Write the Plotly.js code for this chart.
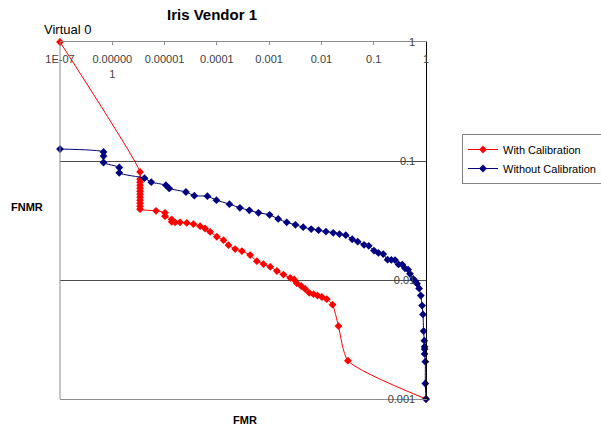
<!DOCTYPE html>
<html>
<head>
<meta charset="utf-8">
<script src="https://cdn.plot.ly/plotly-3.0.1.min.js"></script>
<style>
  html, body { margin: 0; padding: 0; background: #fff; }
  #chart { width: 601px; height: 428px; }
</style>
</head>
<body>
<div id="chart"></div>
<script>
// ---- data ----
const redName = 'With Calibration';
const blueName = 'Without Calibration';

const redFMR = [1e-7, 3.40e-6,
  3.40e-6, 3.40e-6, 3.40e-6, 3.40e-6, 3.40e-6, 3.40e-6, 3.40e-6, 3.40e-6, 3.40e-6, 3.40e-6, 3.40e-6,
  6.88e-6, 1.02e-5, 1.02e-5, 1.37e-5, 1.37e-5,
  1.59e-5, 1.98e-5, 2.66e-5, 3.56e-5, 4.78e-5, 5.96e-5, 7.43e-5, 9.99e-5,
  1.34e-4, 1.67e-4, 2.24e-4, 3.01e-4, 4.33e-4, 5.82e-4, 7.79e-4,
  1.05e-3, 1.41e-3, 1.88e-3, 2.53e-3, 3.01e-3, 3.37e-3, 4.10e-3, 4.90e-3, 5.84e-3, 7.06e-3, 8.42e-3,
  0.0102, 0.0127, 0.0163, 0.0212, 0.0321, 1];
const redFNMR = [1, 0.081,
  0.0704, 0.0664, 0.0626, 0.0591, 0.0558, 0.0526, 0.0497, 0.0469, 0.0442, 0.0417, 0.0394,
  0.0381, 0.0367, 0.0344, 0.0323, 0.0308,
  0.0305, 0.0305, 0.0302, 0.0295, 0.02835, 0.0271, 0.0254, 0.0231,
  0.0216, 0.0196, 0.0182, 0.0175, 0.0162, 0.0144, 0.0136,
  0.0129, 0.0119, 0.0111, 0.0104, 0.0101, 0.0094, 0.0089, 0.0084, 0.0078, 0.0076, 0.0074,
  0.0072, 0.0069, 0.0062, 0.0041, 0.0021, 0.001];

const blueFMR = [1e-7, 6.8e-7, 6.8e-7, 6.8e-7, 1.36e-6, 1.36e-6, 4.14e-6, 5.57e-6, 1.06e-5, 1.23e-5,
  2.56e-5, 3.71e-5, 6.6e-5, 9.81e-5, 1.74e-4, 2.76e-4, 4.18e-4, 6.25e-4, 1.02e-3, 1.49e-3,
  2.17e-3, 3.18e-3, 4.48e-3, 6.37e-3, 8.79e-3, 0.0122, 0.0168, 0.0221, 0.0292, 0.0388,
  0.0495, 0.0653, 0.0804, 0.101, 0.123, 0.152, 0.184, 0.217, 0.256, 0.299,
  0.352, 0.396, 0.454, 0.494, 0.571, 0.624, 0.673, 0.738, 0.795, 0.842,
  0.876, 0.90, 0.928, 0.94, 0.94, 0.94, 0.97, 0.97, 1];
const blueFNMR = [0.126, 0.119, 0.110, 0.0971, 0.0882, 0.0795, 0.0717, 0.0664, 0.0626, 0.0588,
  0.0549, 0.0511, 0.0506, 0.0469, 0.0434, 0.0404, 0.0385, 0.0367, 0.0353, 0.0326,
  0.0305, 0.0291, 0.0278, 0.0268, 0.0262, 0.0255, 0.0249, 0.0243, 0.0238, 0.0220,
  0.0210, 0.01975, 0.01937, 0.01766, 0.01689, 0.0165, 0.01483, 0.01475, 0.01469, 0.01352,
  0.01347, 0.01254, 0.01223, 0.01127, 0.01021, 0.00979, 0.00931, 0.0085, 0.0074, 0.0061,
  0.00514, 0.00372, 0.00309, 0.00275, 0.00263, 0.00239, 0.00206, 0.00135, 0.001];

const xTickVals = [1e-7, 1e-6, 1e-5, 1e-4, 1e-3, 0.01, 0.1, 1];
const xTickText = ['1E-07', '0.00000<br>1', '0.00001', '0.0001', '0.001', '0.01', '0.1', '1'];
const yTickVals = [0.001, 0.01, 0.1, 1];
const yTickText = ['0.001', '0.01', '0.1', '1'];

const chartTitle = 'Iris Vendor 1';
const xTitle = 'FMR';
const yTitle = 'FNMR';
const pointLabel = 'Virtual 0';

const FONT = 'Liberation Sans, Arial, sans-serif';

const traces = [
  {
    x: redFMR, y: redFNMR, name: redName, type: 'scatter', mode: 'lines+markers',
    line: { color: '#FF0000', width: 1, shape: 'spline', smoothing: 0.6 },
    marker: { symbol: 'diamond', size: 6, color: '#FF0000' },
    cliponaxis: false
  },
  {
    x: blueFMR, y: blueFNMR, name: blueName, type: 'scatter', mode: 'lines+markers',
    line: { color: '#000080', width: 1, shape: 'spline', smoothing: 0.6 },
    marker: { symbol: 'diamond', size: 6, color: '#000080' },
    cliponaxis: false
  }
];

const layout = {
  width: 601, height: 428,
  margin: { l: 60, r: 175, t: 42, b: 29, pad: 0 },
  paper_bgcolor: '#ffffff', plot_bgcolor: '#ffffff',
  font: { family: FONT, size: 11, color: '#000' },
  showlegend: true,
  title: {
    text: '<b>' + chartTitle + '</b>',
    font: { family: FONT, size: 15, color: '#000' },
    x: 212 / 601, xref: 'container', xanchor: 'center',
    y: 1 - 15 / 428, yref: 'container', yanchor: 'middle'
  },
  xaxis: {
    type: 'log', range: [-7, 0], side: 'top',
    showline: true, linecolor: '#8c8c8c', linewidth: 1, mirror: true,
    showgrid: false, zeroline: false,
    tickmode: 'array', tickvals: xTickVals, ticktext: xTickText,
    ticks: 'inside', ticklen: 3, tickcolor: '#8c8c8c',
    ticklabelposition: 'inside', ticklabeloverflow: 'allow',
    ticklabelstandoff: 10,
    tickfont: { family: FONT, size: 11, color: '#404040' },
    fixedrange: true
  },
  yaxis: {
    type: 'log', range: [-3, 0], side: 'right',
    showline: true, linecolor: '#000', linewidth: 1,
    showgrid: true, gridcolor: '#4d4d4d', gridwidth: 1, zeroline: false,
    tickmode: 'array', tickvals: yTickVals, ticktext: yTickText,
    ticks: '', ticklabelposition: 'inside', ticklabeloverflow: 'allow',
    ticklabelstandoff: 10,
    tickfont: { family: FONT, size: 11, color: '#404040' },
    fixedrange: true
  },
  legend: {
    x: 462 / 601, xref: 'container', xanchor: 'left',
    y: 1 - 134 / 428, yref: 'container', yanchor: 'top',
    bordercolor: '#808080', borderwidth: 1, bgcolor: '#fff',
    font: { family: FONT, size: 11, color: '#000' },
    tracegroupgap: 0
  },
  shapes: [
    { type: 'line', xref: 'paper', yref: 'paper', x0: 0, x1: 0, y0: 0, y1: 1,
      line: { color: '#8c8c8c', width: 1 } }
  ],
  annotations: [
    { text: pointLabel, xref: 'paper', yref: 'paper', x: (67 - 60) / 366, y: (399 - 30) / 357,
      xanchor: 'center', yanchor: 'middle', showarrow: false,
      font: { family: FONT, size: 13, color: '#000' } },
    { text: '<b>' + xTitle + '</b>', xref: 'paper', yref: 'paper', x: (245 - 60) / 366, y: (399 - 420) / 357,
      xanchor: 'center', yanchor: 'middle', showarrow: false,
      font: { family: FONT, size: 11, color: '#000' } },
    { text: '<b>' + yTitle + '</b>', xref: 'paper', yref: 'paper', x: (27 - 60) / 366, y: (399 - 207) / 357,
      xanchor: 'center', yanchor: 'middle', showarrow: false,
      font: { family: FONT, size: 11, color: '#000' } }
  ]
};

Plotly.newPlot('chart', traces, layout, { displayModeBar: false, staticPlot: true });
</script>
</body>
</html>
